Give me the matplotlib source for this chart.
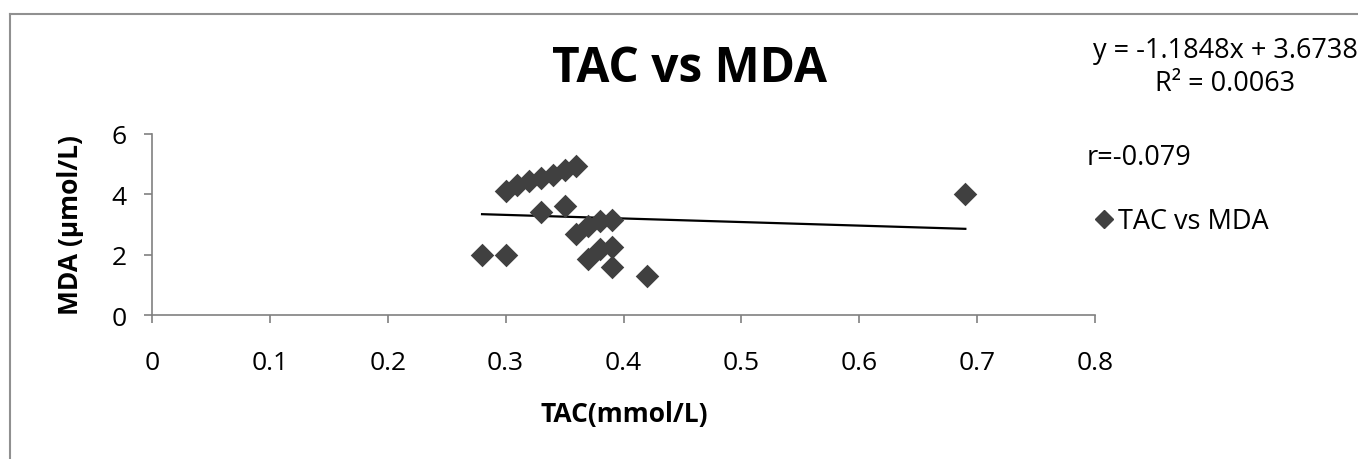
import matplotlib
matplotlib.use("Agg")
import matplotlib.pyplot as plt
from matplotlib.lines import Line2D
import numpy as np

plt.rcParams['font.family'] = ['Open Sans', 'DejaVu Sans']

tac = [0.28, 0.30, 0.30, 0.31, 0.32, 0.33, 0.34, 0.35, 0.36,
       0.33, 0.35, 0.36, 0.37, 0.38, 0.39,
       0.37, 0.38, 0.39, 0.39, 0.42, 0.69]
mda = [2.0, 2.0, 4.1, 4.3, 4.45, 4.55, 4.65, 4.8, 4.95,
       3.4, 3.6, 2.7, 2.95, 3.1, 3.15,
       1.85, 2.2, 2.25, 1.6, 1.3, 4.0]
slope = -1.1848
intercept = 3.6738
r2 = 0.0063
r_value = -0.079
x_ticks = [0, 0.1, 0.2, 0.3, 0.4, 0.5, 0.6, 0.7, 0.8]
y_ticks = [0, 2, 4, 6]

W, H = 1358, 460
fig = plt.figure(figsize=(W / 100, H / 100), dpi=100)
ax = fig.add_axes([152 / W, 1 - 316 / H, (1095 - 152) / W, (316 - 135) / H])

grey = '#404040'
ax.scatter(tac, mda, marker='D', s=12 ** 2, color=grey, linewidths=0, zorder=3)
xs = np.array([min(tac), max(tac)])
ax.plot(xs, slope * xs + intercept, color='black', lw=1.6, zorder=2)

ax.set_xlim(0, 0.8)
ax.set_ylim(0, 6)
ax.set_xticks(x_ticks)
ax.set_xticklabels([f"{t:g}" for t in x_ticks])
ax.set_yticks(y_ticks)
for s in ['top', 'right']:
    ax.spines[s].set_visible(False)
for s in ['left', 'bottom']:
    ax.spines[s].set_color('#808080')
    ax.spines[s].set_linewidth(1.2)
ax.tick_params(axis='both', direction='out', length=6, width=1.2, color='#808080',
               labelsize=19, labelcolor='black')
ax.tick_params(axis='x', pad=19)
ax.tick_params(axis='y', pad=12)

fig.text(624 / W, 1 - 415 / H, 'TAC(mmol/L)', fontsize=19, fontweight='bold',
         ha='center', va='center')
fig.text(70 / W, 1 - 225 / H, 'MDA (µmol/L)', fontsize=19, fontweight='bold',
         ha='center', va='center', rotation=90)

fig.text(690 / W, 1 - 69 / H, 'TAC vs MDA', fontsize=34.5, fontweight='bold',
         ha='center', va='center')
fig.text(1225 / W, 1 - 51 / H, f'y = {slope}x + {intercept}', fontsize=19.5,
         ha='center', va='center')
fig.text(1225 / W, 1 - 84 / H, f'R² = {r2}', fontsize=19.5, ha='center', va='center')
fig.text(1087 / W, 1 - 158 / H, f'r={r_value}', fontsize=19.5, ha='left', va='center')

fig.legend(handles=[Line2D([], [], marker='D', color=grey, ls='none', markersize=9)],
           labels=['TAC vs MDA'], loc='center left', bbox_to_anchor=(1090 / W, 1 - 222 / H),
           frameon=False, fontsize=19.5, handletextpad=0.05, handlelength=1.0,
           borderaxespad=0, borderpad=0)

fig.add_artist(Line2D([10 / W, 10 / W], [0, 1 - 15 / H], transform=fig.transFigure,
                      color='#909090', lw=1.5))
fig.add_artist(Line2D([10 / W, 1], [1 - 15 / H, 1 - 15 / H], transform=fig.transFigure,
                      color='#909090', lw=1.5))

fig.savefig('out.png', dpi=100, facecolor='white')
